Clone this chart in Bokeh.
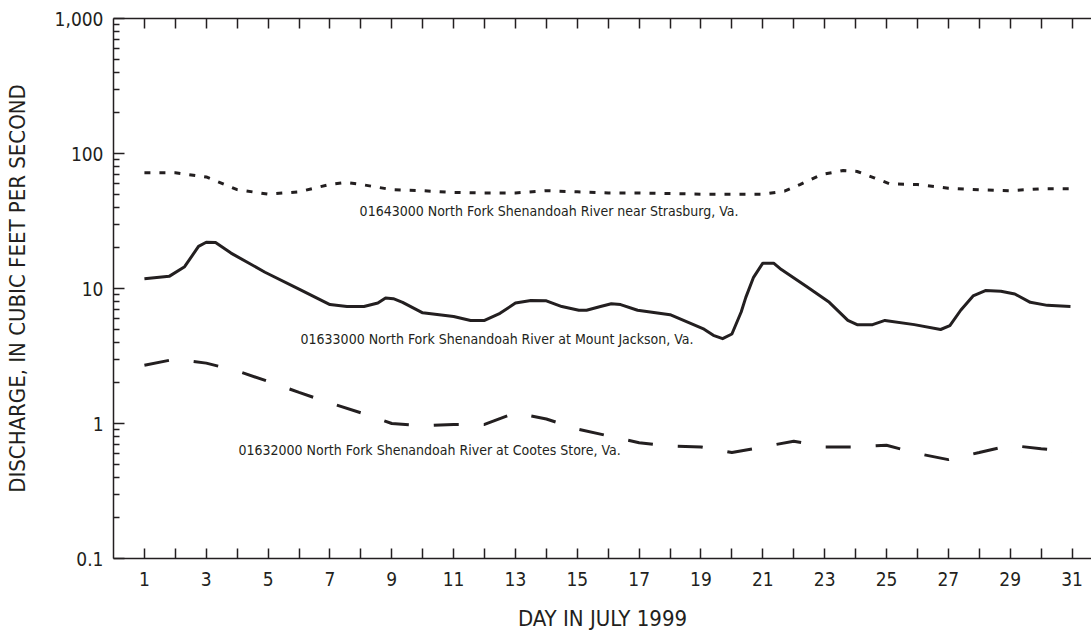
from bokeh.plotting import figure
from bokeh.models import Range1d, FixedTicker, LinearAxis, Label
from bokeh.embed import file_html
from bokeh.resources import INLINE

# --- data ---
strasburg_day = [1, 2, 3, 4, 5, 6, 7, 7.5, 8, 9, 10, 11, 12, 13, 14, 15, 16, 17, 18, 19, 20, 21,
                 21.7, 22.2, 22.9, 23.6, 24.05, 24.6, 25.1, 26, 27, 28, 29, 30, 31]
strasburg_q = [72, 72, 67, 54, 50, 52, 59, 61, 59, 54, 53, 51.5, 51, 51, 53, 52, 51, 51, 50.5, 50, 50, 50,
               52.6, 58.9, 69.9, 74.8, 73.6, 66, 59.6, 58.9, 55.3, 53.8, 53, 54.8, 54.8]

jackson_day = [1.0, 1.8, 2.3, 2.75, 3.0, 3.3, 3.8, 4.9, 6.0, 7.0, 7.55, 8.1, 8.55, 8.8, 9.05, 9.35, 10.0,
               11.0, 11.55, 12.0, 12.5, 13.0, 13.5, 14.0, 14.5, 15.05, 15.3, 15.75, 16.1, 16.4, 16.95,
               18.0, 19.1, 19.4, 19.7, 20.0, 20.3, 20.45, 20.7, 21.0, 21.35, 21.6, 22.45, 23.15, 23.75,
               24.05, 24.55, 24.95, 25.9, 26.75, 27.05, 27.4, 27.8, 28.2, 28.7, 29.15, 29.65, 30.2, 30.95]
jackson_q = [11.8, 12.3, 14.5, 20.5, 22.0, 21.9, 18.3, 13.2, 9.9, 7.6, 7.35, 7.35, 7.8, 8.5, 8.4, 7.9, 6.6,
             6.2, 5.8, 5.8, 6.55, 7.8, 8.15, 8.1, 7.35, 6.9, 6.9, 7.35, 7.7, 7.6, 6.9,
             6.4, 5.0, 4.5, 4.25, 4.6, 6.7, 8.6, 12.1, 15.4, 15.4, 13.8, 10.2, 7.9, 5.8,
             5.4, 5.4, 5.8, 5.4, 4.97, 5.3, 6.9, 8.8, 9.65, 9.55, 9.1, 7.9, 7.5, 7.35]

cootes_day = [1, 2, 3, 4, 5, 6, 7, 8, 9, 10, 11, 12, 13, 14, 15, 16, 17, 18, 19, 20, 21, 22, 23, 24,
              25, 26, 27, 28, 29, 30, 31]
cootes_q = [2.7, 3.0, 2.8, 2.45, 2.05, 1.7, 1.42, 1.2, 1.0, 0.96, 0.985, 0.985, 1.2, 1.08, 0.91, 0.81,
            0.72, 0.68, 0.67, 0.61, 0.67, 0.74, 0.67, 0.67, 0.69, 0.60, 0.54, 0.61, 0.69, 0.65, 0.62]

x_ticks = list(range(1, 32))
x_tick_labels = [str(d) if d % 2 == 1 else "" for d in x_ticks]
y_ticks = [0.1, 1, 10, 100, 1000]
y_tick_labels = ["0.1", "1", "10", "100", "1,000"]
x_title = "DAY IN JULY 1999"
y_title = "DISCHARGE, IN CUBIC FEET PER SECOND"

labels = [
    ("01643000 North Fork Shenandoah River near Strasburg, Va.", 7.96, 37.4),
    ("01633000 North Fork Shenandoah River at Mount Jackson, Va.", 6.05, 4.26),
    ("01632000 North Fork Shenandoah River at Cootes Store, Va.", 4.04, 0.631),
]

INK = "#231f20"
FONT = "'Liberation Sans Narrow', 'DejaVu Sans Condensed', 'Roboto', sans-serif"

p = figure(width=1091, height=634, output_backend="svg", toolbar_location=None,
           y_axis_type="log", x_range=Range1d(0, 31.63), y_range=Range1d(0.1, 1000),
           min_border_left=113, min_border_right=0, min_border_top=18, min_border_bottom=76)
p.outline_line_color = None
p.xgrid.visible = False
p.ygrid.visible = False
p.background_fill_color = "white"
p.border_fill_color = "white"

minor_y = [m * 10.0 ** e for e in range(-1, 3) for m in range(2, 10)]

# y axis
ya = p.yaxis[0]
ya.ticker = FixedTicker(ticks=y_ticks, minor_ticks=minor_y)
ya.major_label_overrides = {t: l for t, l in zip(y_ticks, y_tick_labels)}
ya.major_tick_in = 11
ya.major_tick_out = 0
ya.minor_tick_in = 6
ya.minor_tick_out = 0
ya.axis_line_width = 1.5
ya.major_tick_line_width = 1.5
ya.minor_tick_line_width = 1.5
ya.axis_line_color = INK
ya.major_tick_line_color = INK
ya.minor_tick_line_color = INK
ya.major_label_text_font = FONT
ya.major_label_text_font_size = "19px"
ya.major_label_text_color = INK
ya.major_label_standoff = 10
ya.axis_label = y_title
ya.axis_label_text_font = FONT
ya.axis_label_text_font_size = "22px"
ya.axis_label_text_font_style = "normal"
ya.axis_label_text_color = INK
ya.axis_label_standoff = 22

# x axis
xa = p.xaxis[0]
xa.ticker = FixedTicker(ticks=x_ticks, minor_ticks=[])
xa.major_label_overrides = {t: l for t, l in zip(x_ticks, x_tick_labels)}
xa.major_tick_in = 10
xa.major_tick_out = 0
xa.axis_line_width = 1.5
xa.major_tick_line_width = 1.5
xa.axis_line_color = INK
xa.major_tick_line_color = INK
xa.major_label_text_font = FONT
xa.major_label_text_font_size = "19px"
xa.major_label_text_color = INK
xa.major_label_standoff = 13
xa.axis_label = x_title
xa.axis_label_text_font = FONT
xa.axis_label_text_font_size = "22px"
xa.axis_label_text_font_style = "normal"
xa.axis_label_text_color = INK
xa.axis_label_standoff = 17

top = LinearAxis(ticker=FixedTicker(ticks=x_ticks, minor_ticks=[]),
                 major_label_overrides={t: "" for t in x_ticks},
                 major_tick_in=10, major_tick_out=0, axis_line_width=1.5,
                 major_tick_line_width=1.5, axis_line_color=INK, major_tick_line_color=INK,
                 major_label_text_font_size="1px", major_label_standoff=0)
p.add_layout(top, "above")

# series
p.line(strasburg_day, strasburg_q, line_color=INK, line_width=3, line_dash="6 9")
p.line(jackson_day, jackson_q, line_color=INK, line_width=3, line_join="round")
p.line(cootes_day, cootes_q, line_color=INK, line_width=3, line_dash="25 25")

for txt, x, y in labels:
    p.add_layout(Label(x=x, y=y, text=txt, text_font=FONT, text_font_size="14px",
                       text_color=INK, text_baseline="middle", text_align="left"))

open("out.html", "w").write(file_html(p, INLINE))
